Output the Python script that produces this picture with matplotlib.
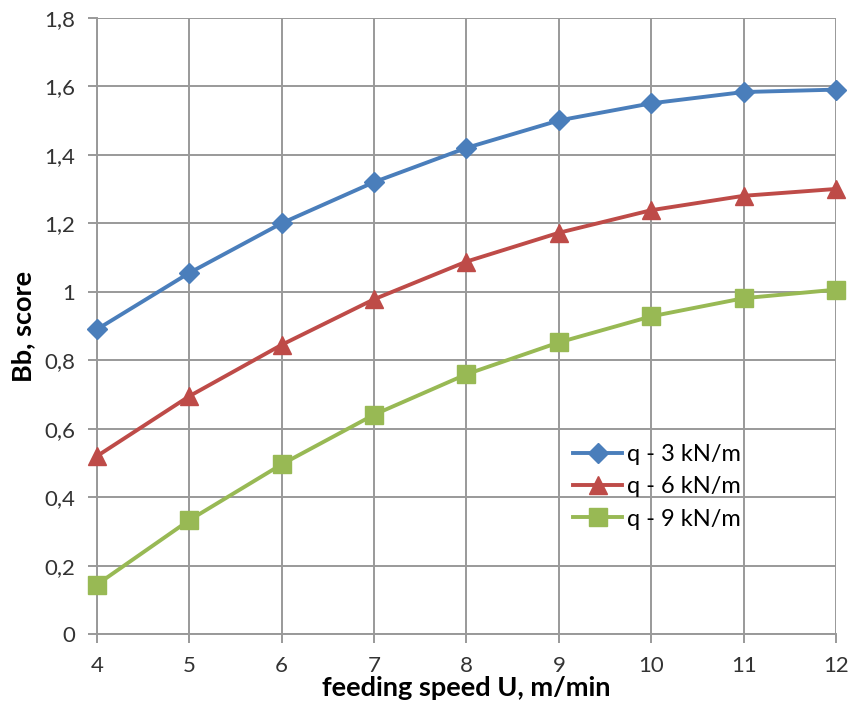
import matplotlib
matplotlib.use("Agg")
import matplotlib.pyplot as plt
from matplotlib.ticker import FuncFormatter

plt.rcParams['font.family'] = ['Lato', 'DejaVu Sans']

speed = [4, 5, 6, 7, 8, 9, 10, 11, 12]
q3 = [0.89, 1.055, 1.20, 1.32, 1.42, 1.50, 1.55, 1.583, 1.59]
q6 = [0.52, 0.695, 0.845, 0.978, 1.088, 1.172, 1.238, 1.28, 1.30]
q9 = [0.145, 0.333, 0.496, 0.641, 0.759, 0.852, 0.928, 0.981, 1.006]
labels = ["q - 3 kN/m", "q - 6 kN/m", "q - 9 kN/m"]

fig = plt.figure(figsize=(8.52, 7.08), dpi=100)
ax = fig.add_axes([0.1138, 0.1042, 0.8674, 0.8708])

ax.plot(speed, q3, color="#4A7EBB", lw=2.8, marker="D", ms=10.5, label=labels[0], zorder=3, clip_on=False)
ax.plot(speed, q6, color="#BE4B48", lw=2.8, marker="^", ms=12.5, label=labels[1], zorder=3, clip_on=False)
ax.plot(speed, q9, color="#98B954", lw=2.8, marker="s", ms=12.5, label=labels[2], zorder=3, clip_on=False)

ax.set_xlim(4, 12)
ax.set_ylim(0, 1.8)
ax.set_xticks(range(4, 13))
ax.set_yticks([i * 0.2 for i in range(10)])

def comma(v, pos):
    s = ("%.1f" % v).rstrip("0").rstrip(".")
    return s.replace(".", ",")

ax.yaxis.set_major_formatter(FuncFormatter(comma))
ax.grid(True, color="#999999", lw=1.4, zorder=0)
for side in ["top", "right"]:
    ax.spines[side].set_visible(False)
for side in ["left", "bottom"]:
    ax.spines[side].set_color("#999999")
    ax.spines[side].set_linewidth(1.4)
ax.tick_params(axis="both", colors="#999999", length=6.5, width=1.4, labelsize=16,
               labelcolor="#333333")
ax.tick_params(axis="x", pad=9)
ax.tick_params(axis="y", pad=9)

ax.set_xlabel("feeding speed U, m/min", fontsize=19.5, fontweight="bold", labelpad=0)
ax.set_ylabel("Bb, score", fontsize=19.5, fontweight="bold", labelpad=7)

ax.legend(loc="center left", bbox_to_anchor=(0.644, 0.239), frameon=False, fontsize=17,
          borderpad=0, borderaxespad=0, handlelength=2.1, handletextpad=0.2,
          labelspacing=0.48)

fig.savefig("out.png", dpi=100)
